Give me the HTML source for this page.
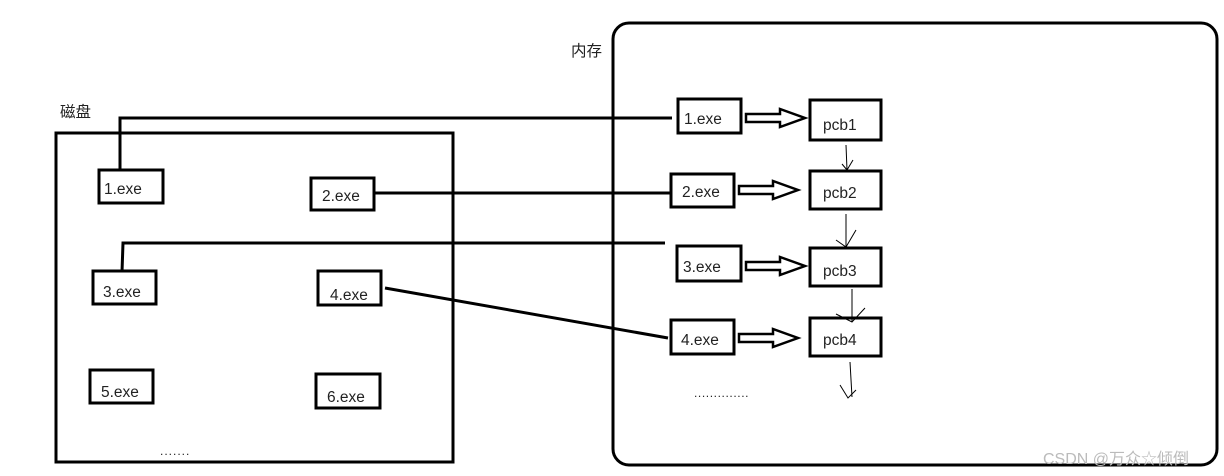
<!DOCTYPE html>
<html><head><meta charset="utf-8"><style>
body{margin:0;width:1224px;height:476px;background:#fff;overflow:hidden}
svg{display:block}
text{font-family:"Liberation Sans","Noto Sans CJK SC",sans-serif;fill:#222}
</style></head><body>
<svg width="1224" height="476" viewBox="0 0 1224 476">
<g fill="none" stroke="#000" stroke-width="3">
<rect x="56" y="133" width="397" height="329"/>
<rect x="613" y="23" width="604" height="442" rx="16"/>
<rect x="99" y="170" width="64" height="33"/>
<rect x="311" y="178" width="63" height="32"/>
<rect x="93" y="271" width="63" height="33"/>
<rect x="318" y="271" width="63" height="34"/>
<rect x="90" y="370" width="63" height="33"/>
<rect x="316" y="374" width="64" height="34"/>
<rect x="678" y="99" width="63" height="34"/>
<rect x="671" y="174" width="63" height="33"/>
<rect x="677" y="246" width="64" height="35"/>
<rect x="671" y="320" width="63" height="34"/>
<rect x="810" y="100" width="71" height="40"/>
<rect x="810" y="171" width="71" height="38"/>
<rect x="810" y="248" width="71" height="38"/>
<rect x="810" y="318" width="71" height="38"/>
<polyline points="120,170 120,118 672,118"/>
<line x1="375" y1="193" x2="670" y2="193"/>
<polyline points="122,272 123,243 665,243"/>
<line x1="385" y1="288" x2="668" y2="338"/>
</g>
<g fill="#fff" stroke="#000" stroke-width="2.5">
<polygon points="746,114 780,114 780,109 805,118 780,127 780,122 746,122"/>
<polygon points="739,186 773,186 773,181 798,190 773,199 773,194 739,194"/>
<polygon points="746,262 780,262 780,257 805,266 780,275 780,270 746,270"/>
<polygon points="739,334 773,334 773,329 798,338 773,347 773,342 739,342"/>
</g>
<g fill="none" stroke="#000" stroke-width="1">
<path d="M846,145 L847,170 M842,164 L847,170 L853,160"/>
<path d="M846,214 L846,247 M836,240 L846,247 L856,230"/>
<path d="M852,289 L852,322 M836,314 L852,322 L865,308"/>
<path d="M850,362 L852,397 M840,385 L848,398 L856,390"/>
</g>
<g font-size="15.5">
<text x="104" y="194">1.exe</text>
<text x="322" y="201">2.exe</text>
<text x="103" y="297">3.exe</text>
<text x="330" y="300">4.exe</text>
<text x="101" y="397">5.exe</text>
<text x="327" y="402">6.exe</text>
<text x="684" y="124">1.exe</text>
<text x="682" y="197">2.exe</text>
<text x="683" y="272">3.exe</text>
<text x="681" y="345">4.exe</text>
<text x="823" y="130">pcb1</text>
<text x="823" y="198">pcb2</text>
<text x="823" y="276">pcb3</text>
<text x="823" y="345">pcb4</text>
<text x="60" y="117">磁盘</text>
<text x="571" y="56">内存</text>
</g>
<text x="160" y="455" font-size="12" letter-spacing="1">.......</text>
<text x="694" y="397" font-size="12" letter-spacing="0.6">..............</text>
<text x="1043" y="464" font-size="16" style="fill:#bbb">CSDN @万众☆倾倒</text>
</svg>
</body></html>
